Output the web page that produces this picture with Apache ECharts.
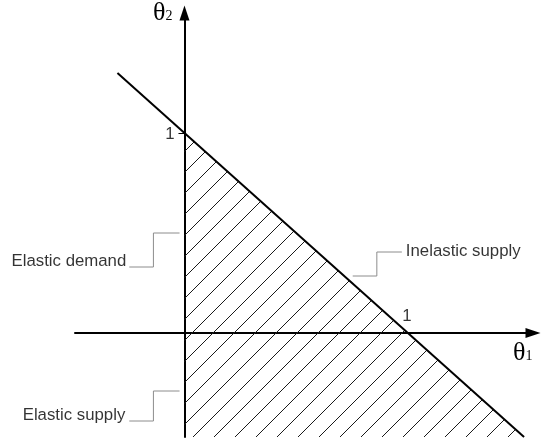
<!DOCTYPE html>
<html>
<head>
<meta charset="utf-8">
<script src="https://cdn.jsdelivr.net/npm/echarts@6/dist/echarts.min.js"></script>
<style>
  html, body { margin: 0; padding: 0; background: #fff; }
  #chart { width: 541px; height: 445px; }
</style>
</head>
<body>
<div id="chart"></div>
<script>
// axis extents (theta units)
const xRange = [-0.49, 1.56];
const yRange = [-0.52, 1.60];
const unitTicks = [1];

// theta1 + theta2 = 1 boundary and the shaded part of it
const boundary = [[-0.3, 1.3], [1.52, -0.52]];
const shaded = [[0, 1], [1.52, -0.52]];

// callout leaders
const demandLeader = [[-0.247, 0.33], [-0.139, 0.33], [-0.139, 0.50], [-0.022, 0.50]];
const supplyLeader = [[-0.247, -0.44], [-0.139, -0.44], [-0.139, -0.29], [-0.022, -0.29]];
const inelasticLeader = [[0.753, 0.285], [0.861, 0.285], [0.861, 0.405], [0.973, 0.405]];
const noteNames = ['Elastic demand', 'Elastic supply', 'Inelastic supply'];

// hatch pattern
function hatch(size) {
    const c = document.createElement('canvas');
    c.width = size; c.height = size;
    const g = c.getContext('2d');
    g.strokeStyle = '#1a1a1a';
    g.lineWidth = 1;
    g.beginPath();
    g.moveTo(0, size); g.lineTo(size, 0);
    g.moveTo(-2, 2); g.lineTo(2, -2);
    g.moveTo(size - 2, size + 2); g.lineTo(size + 2, size - 2);
    g.stroke();
    return c;
}

const leaderStyle = {type: 'line', symbol: 'none', silent: true, lineStyle: {color: '#8c8c8c', width: 1}};
const labelFont = {fontFamily: 'Liberation Sans, Arial', fontSize: 16.8, color: '#000'};
const thetaRich = {
    t: {fontFamily: 'Liberation Serif, Times New Roman', fontSize: 26, color: '#000'},
    s: {fontFamily: 'Liberation Serif, Times New Roman', fontSize: 14, color: '#000', verticalAlign: 'bottom', padding: [0, 0, 3, 0]}
};

const chart = echarts.init(document.getElementById('chart'));
chart.setOption({
    animation: false,
    grid: {left: 75, right: 8, top: 12.5, bottom: 8},
    xAxis: {
        type: 'value', min: xRange[0], max: xRange[1],
        splitLine: {show: false},
        axisLine: {onZero: true, symbol: ['none', 'triangle'], symbolSize: [10, 15], lineStyle: {color: '#000', width: 2}},
        axisTick: {show: false},
        axisLabel: {show: false},
        name: '{t|θ}{s|1}', nameLocation: 'end', nameGap: -20,
        nameTextStyle: {align: 'left', verticalAlign: 'top', padding: [7, 0, 0, 0], rich: thetaRich}
    },
    yAxis: {
        type: 'value', min: yRange[0], max: yRange[1],
        splitLine: {show: false},
        axisLine: {onZero: true, symbol: ['none', 'triangle'], symbolSize: [10, 15], lineStyle: {color: '#000', width: 2}},
        axisTick: {customValues: unitTicks, length: 6, lineStyle: {color: '#000', width: 1}},
        axisLabel: {show: false},
        name: '{t|θ}{s|2}', nameLocation: 'end', nameGap: -13,
        nameTextStyle: {align: 'right', verticalAlign: 'bottom', padding: [0, 12, 0, 0], rich: thetaRich}
    },
    series: [
        {
            type: 'line', data: shaded, symbol: 'none', silent: true,
            lineStyle: {width: 0},
            areaStyle: {origin: 'start', opacity: 1, color: {image: hatch(21), repeat: 'repeat'}}
        },
        {
            type: 'line', data: boundary, symbol: 'none', silent: true,
            lineStyle: {color: '#000', width: 2}, z: 3
        },
        {...leaderStyle, data: demandLeader},
        {...leaderStyle, data: supplyLeader},
        {...leaderStyle, data: inelasticLeader},
        {
            type: 'scatter', symbolSize: 0, silent: true, z: 5,
            data: [
                {name: noteNames[0], value: demandLeader[0], label: {position: 'left', distance: 3, offset: [0, -6]}},
                {name: noteNames[1], value: supplyLeader[0], label: {position: 'left', distance: 4, offset: [0, -6]}},
                {name: noteNames[2], value: inelasticLeader[3], label: {position: 'right', distance: 4, offset: [0, -1]}},
                {name: String(unitTicks[0]), value: [0, unitTicks[0]], label: {position: 'left', distance: 10, offset: [0, 1]}},
                {name: String(unitTicks[0]), value: [unitTicks[0], 0], label: {position: 'top', distance: 8, offset: [-1, 0]}}
            ],
            label: {show: true, formatter: '{b}', ...labelFont}
        }
    ]
});
</script>
</body>
</html>
